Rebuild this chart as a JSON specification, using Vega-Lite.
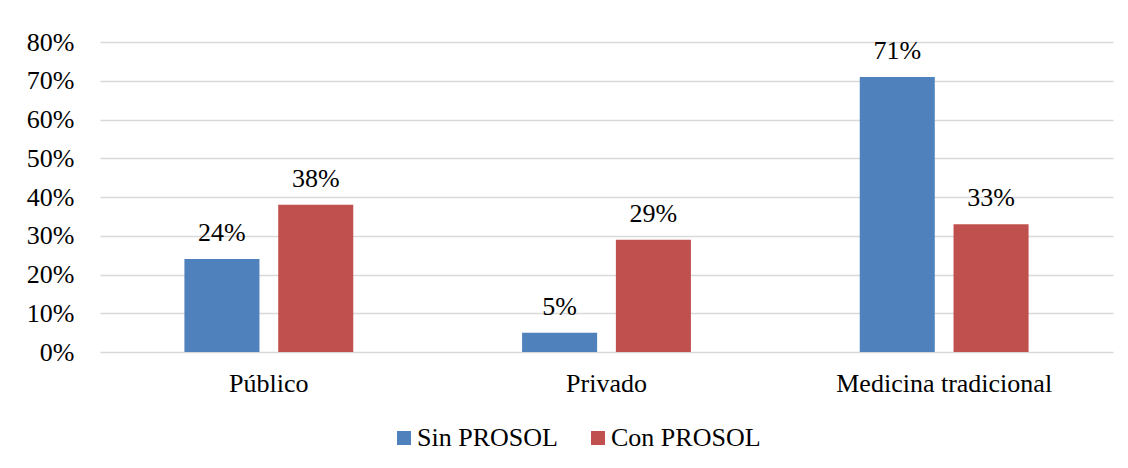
{
  "$schema": "https://vega.github.io/schema/vega-lite/v6.json",
  "width": 1013,
  "height": 310,
  "autosize": {"type": "none"},
  "padding": {"left": 100, "top": 42, "right": 15, "bottom": 116},
  "background": "white",
  "config": {
    "view": {"stroke": null},
    "font": "Liberation Serif",
    "text": {"font": "Liberation Serif"},
    "axis": {"labelFont": "Liberation Serif", "labelFontSize": 26, "labelColor": "#000000", "labelLimit": 400},
    "legend": {"labelFont": "Liberation Serif", "labelFontSize": 26, "labelColor": "#000000", "labelLimit": 400}
  },
  "data": {
    "values": [
      {"sector": "Público", "grupo": "Sin PROSOL", "valor": 0.24},
      {"sector": "Público", "grupo": "Con PROSOL", "valor": 0.38},
      {"sector": "Privado", "grupo": "Sin PROSOL", "valor": 0.05},
      {"sector": "Privado", "grupo": "Con PROSOL", "valor": 0.29},
      {"sector": "Medicina tradicional", "grupo": "Sin PROSOL", "valor": 0.71},
      {"sector": "Medicina tradicional", "grupo": "Con PROSOL", "valor": 0.33}
    ]
  },
  "encoding": {
    "x": {
      "field": "sector", "type": "nominal",
      "sort": ["Público", "Privado", "Medicina tradicional"],
      "scale": {"paddingInner": 0.5, "paddingOuter": 0.25},
      "axis": {"title": null, "labelAngle": 0, "domain": false, "ticks": false, "labelPadding": 18, "grid": false,
               "labelFont": "Liberation Serif", "labelFontSize": 26, "labelLimit": 400}
    },
    "xOffset": {
      "field": "grupo", "type": "nominal",
      "sort": ["Sin PROSOL", "Con PROSOL"],
      "scale": {"paddingInner": 0.2, "paddingOuter": 0}
    },
    "y": {
      "field": "valor", "type": "quantitative",
      "scale": {"domain": [0, 0.8], "nice": false},
      "axis": {
        "title": null, "format": ".0%", "values": [0, 0.1, 0.2, 0.3, 0.4, 0.5, 0.6, 0.7, 0.8],
        "domain": false, "ticks": false, "labelPadding": 26,
        "labelFont": "Liberation Serif", "labelFontSize": 26,
        "grid": true, "gridColor": "#D9D9D9", "gridWidth": 1.5
      }
    }
  },
  "layer": [
    {
      "mark": {"type": "bar"},
      "encoding": {
        "color": {
          "field": "grupo", "type": "nominal",
          "sort": ["Sin PROSOL", "Con PROSOL"],
          "scale": {"domain": ["Sin PROSOL", "Con PROSOL"], "range": ["#4F81BD", "#C0504D"]},
          "legend": {
            "title": null, "orient": "none", "direction": "horizontal",
            "legendX": 291, "legendY": 383,
            "labelFont": "Liberation Serif", "labelFontSize": 26,
            "symbolType": "square", "symbolSize": 196, "symbolStrokeWidth": 0,
            "labelOffset": 0, "columnPadding": 27, "padding": 0
          }
        }
      }
    },
    {
      "mark": {"type": "text", "baseline": "alphabetic", "dy": -18, "fontSize": 26, "font": "Liberation Serif", "color": "#000000"},
      "encoding": {
        "text": {"field": "valor", "type": "quantitative", "format": ".0%"}
      }
    }
  ]
}
